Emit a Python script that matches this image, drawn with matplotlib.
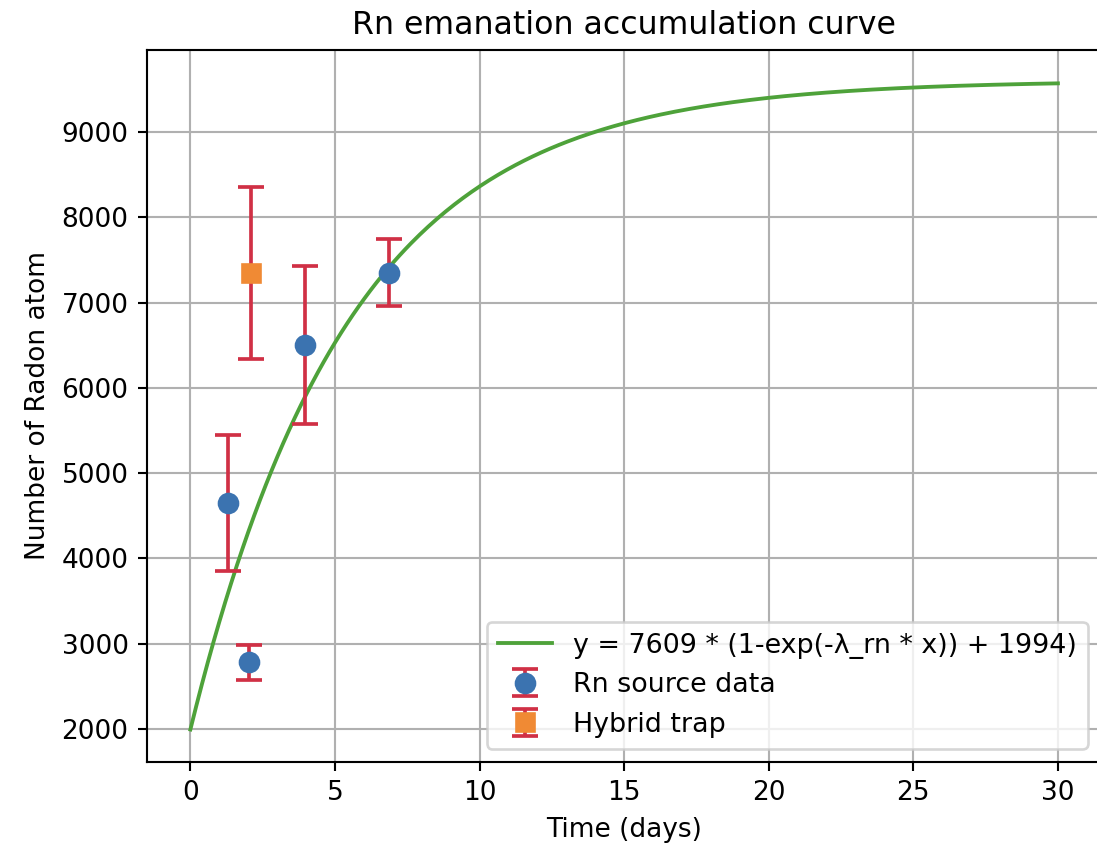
import numpy as np
import matplotlib
matplotlib.use("Agg")
import matplotlib.pyplot as plt

# fit parameters (from legend)
A_fit = 7609
B_fit = 1994
half_life_rn = 3.8235  # days
lam_rn = np.log(2) / half_life_rn

# Rn source measurements
rn_t = [1.31, 2.04, 3.97, 6.88]
rn_n = [4650, 2780, 6500, 7350]
rn_err = [800, 205, 925, 395]

# hybrid trap measurement
hy_t = [2.1]
hy_n = [7345]
hy_err = [1010]

t = np.linspace(0, 30, 300)
fit = A_fit * (1 - np.exp(-lam_rn * t)) + B_fit

DPI = 190
fig = plt.figure(figsize=(1097/DPI, 845/DPI), dpi=DPI)
ax = fig.add_axes([147/1097, 83/845, (1101.3-147)/1097, (762-50)/845])

ax.plot(t, fit, color='#4ea23a', lw=1.45,
        label='y = 7609 * (1-exp(-λ_rn * x)) + 1994)')
ax.errorbar(rn_t, rn_n, yerr=rn_err, fmt='o', color='#3b73b0', ms=7.2,
            ecolor='#d03045', elinewidth=1.4, capsize=5, capthick=1.4,
            label='Rn source data', zorder=3)
ax.errorbar(hy_t, hy_n, yerr=hy_err, fmt='s', color='#f08a34', ms=6.6,
            ecolor='#d03045', elinewidth=1.4, capsize=5, capthick=1.4,
            label='Hybrid trap', zorder=3)

ax.set_xlim(-1.5, 31.5)
ax.set_ylim(1613, 9961)
ax.grid(True)
ax.set_title('Rn emanation accumulation curve')
ax.set_xlabel('Time (days)')
ax.set_ylabel('Number of Radon atom')
ax.legend(loc='lower right', fontsize=10.2)

fig.savefig('out.png', dpi=DPI)
